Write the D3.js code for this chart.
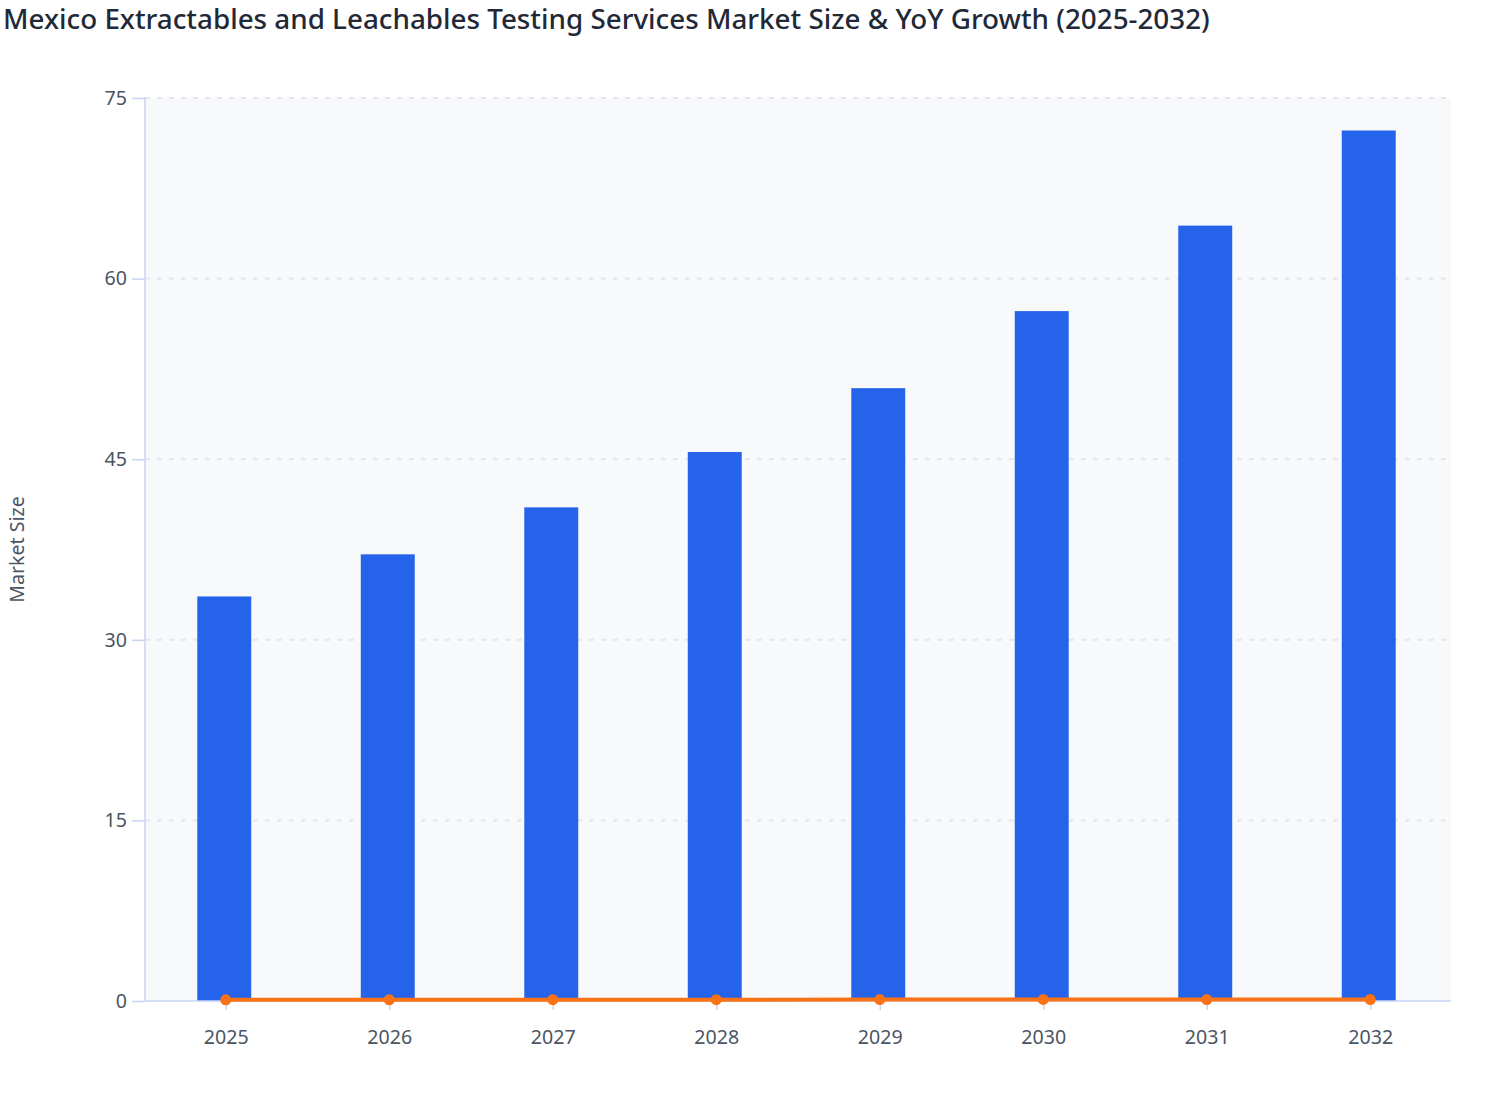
<!DOCTYPE html>
<html>
<head>
<meta charset="utf-8">
<script src="https://cdn.jsdelivr.net/npm/d3@7"></script>
<style>
  html, body { margin: 0; padding: 0; background: #ffffff; }
  svg { display: block; }
</style>
</head>
<body>
<svg id="chart" width="1508" height="1120"></svg>
<script>
const years = ["2025", "2026", "2027", "2028", "2029", "2030", "2031", "2032"];
const marketSize = [33.6, 37.1, 41.0, 45.6, 50.9, 57.3, 64.4, 72.3];
const yoyGrowth = [0.10, 0.104, 0.105, 0.111, 0.116, 0.126, 0.123, 0.124];
const yTicks = [0, 15, 30, 45, 60, 75];
const titleText = "Mexico Extractables and Leachables Testing Services Market Size & YoY Growth (2025-2032)";
const yAxisTitle = "Market Size";

const svg = d3.select("#chart");
const font = "'Noto Sans', 'Open Sans', sans-serif";
const m = { left: 145, right: 1451, top: 98, bottom: 1001 };

const x = d3.scaleBand().domain(years).range([m.left - 1.5, m.right - 1.5]).paddingInner(0.67).paddingOuter(0.329);
const xPoint = d3.scalePoint().domain(years).range([m.left, m.right]).padding(0.494);
const y = d3.scaleLinear().domain([0, 75]).range([m.bottom, m.top]);

// plot background
svg.append("rect")
  .attr("x", m.left).attr("y", m.top)
  .attr("width", m.right - m.left).attr("height", m.bottom - m.top)
  .attr("fill", "#f8f9fb");

// grid
svg.append("g").selectAll("line").data(yTicks.filter(d => d > 0)).join("line")
  .attr("x1", m.left).attr("x2", m.right)
  .attr("y1", d => y(d)).attr("y2", d => y(d))
  .attr("stroke", "#e3e6ec").attr("stroke-width", 2)
  .attr("stroke-dasharray", "5,7");

// title
svg.append("text")
  .attr("x", 3).attr("y", 29)
  .attr("font-family", font).attr("font-size", 27.8).attr("font-weight", 500)
  .attr("fill", "#1f2937")
  .text(titleText);

// y axis
const yAxis = d3.axisLeft(y).tickValues(yTicks).tickSize(13).tickPadding(5);
const gy = svg.append("g").attr("transform", `translate(${m.left},0)`).call(yAxis);
gy.select(".domain").attr("stroke", "#c9d3f5").attr("stroke-width", 1.5).attr("d", `M0,${m.top - 1}V${m.bottom}`);
gy.selectAll(".tick line").attr("stroke", "#c9d3f5").attr("stroke-width", 1.5);
gy.selectAll(".tick text").attr("font-family", font).attr("font-size", 19.6).attr("fill", "#4b5563");

// y axis title
svg.append("text")
  .attr("transform", `translate(24,${(m.top + m.bottom) / 2}) rotate(-90)`)
  .attr("text-anchor", "middle")
  .attr("font-family", font).attr("font-size", 19.6).attr("fill", "#4b5563")
  .text(yAxisTitle);

// bars
svg.append("g").selectAll("rect").data(years).join("rect")
  .attr("x", d => x(d)).attr("width", x.bandwidth())
  .attr("y", (d, i) => y(marketSize[i]))
  .attr("height", (d, i) => y(0) - y(marketSize[i]))
  .attr("fill", "#2563eb");

// x axis
const xAxis = d3.axisBottom(xPoint).tickSize(9).tickPadding(20);
const gx = svg.append("g").attr("transform", `translate(0,${m.bottom})`).call(xAxis);
gx.select(".domain").attr("stroke", "#c9d3f5").attr("stroke-width", 1.5).attr("d", `M${m.left},0H${m.right}`);
gx.selectAll(".tick line").attr("stroke", "#c9d3f5").attr("stroke-width", 1.5);
gx.selectAll(".tick text").attr("font-family", font).attr("font-size", 19.6).attr("fill", "#4b5563");

// growth line
const line = d3.line().x((d, i) => xPoint(years[i])).y(d => y(d));
svg.append("path").datum(yoyGrowth)
  .attr("d", line)
  .attr("fill", "none").attr("stroke", "#f97316").attr("stroke-width", 4);
svg.append("g").selectAll("circle").data(yoyGrowth).join("circle")
  .attr("cx", (d, i) => xPoint(years[i])).attr("cy", d => y(d))
  .attr("r", 5.5).attr("fill", "#f97316");
</script>
</body>
</html>
